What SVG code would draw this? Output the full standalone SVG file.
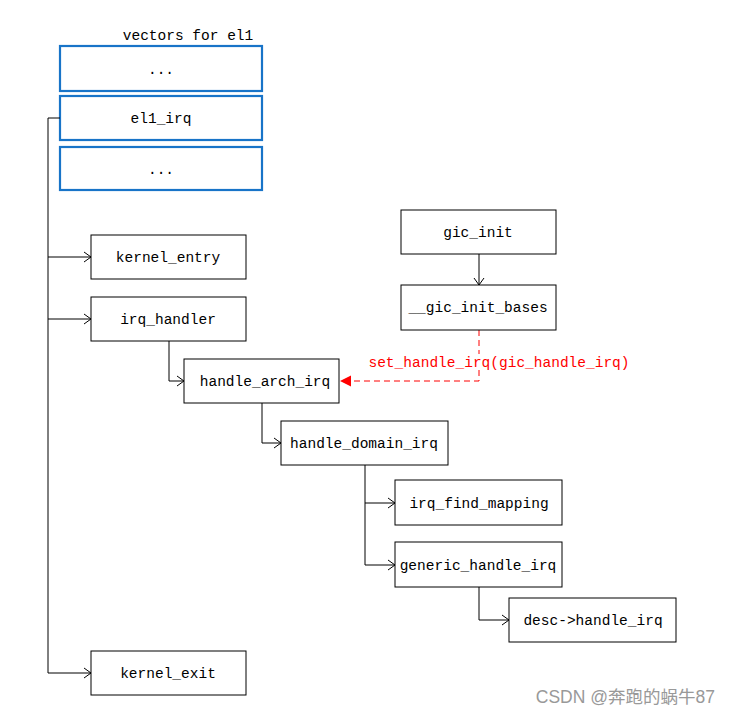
<svg xmlns="http://www.w3.org/2000/svg" width="730" height="716" viewBox="0 0 730 716">
<style>
.box{fill:#fff;stroke:#000;stroke-width:1}
.vbox{fill:#fff;stroke:#1874c8;stroke-width:2.2}
.t{font-family:"Liberation Mono",monospace;font-size:14.5px;fill:#000;text-anchor:middle;dominant-baseline:central}
.c{fill:none;stroke:#000;stroke-width:1}
.red{fill:none;stroke:#f00;stroke-width:1;stroke-dasharray:6,4}
</style>
<defs>
<marker id="open" markerWidth="10" markerHeight="12" refX="8" refY="6" orient="auto" markerUnits="userSpaceOnUse">
<path d="M1,1 L8,6 L1,11" fill="none" stroke="#000" stroke-width="1"/>
</marker>
<marker id="tri" markerWidth="12" markerHeight="12" refX="11" refY="6" orient="auto" markerUnits="userSpaceOnUse">
<path d="M0,0.5 L11,6 L0,11.5 Z" fill="#f00"/>
</marker>
</defs>
<text class="t" x="188" y="36">vectors for el1</text>
<g id="vec1"><rect class="vbox" x="60" y="46" width="202" height="45"/><text class="t" x="161" y="70">...</text></g>
<g id="el1_irq"><rect class="vbox" x="60" y="96" width="202" height="44"/><text class="t" x="161" y="119">el1_irq</text></g>
<g id="vec3"><rect class="vbox" x="60" y="147" width="202" height="43"/><text class="t" x="161" y="170">...</text></g>
<g id="connectors">
<path class="c" d="M60,118 H48 V673"/>
<path class="c" d="M48,257 H91" marker-end="url(#open)"/>
<path class="c" d="M48,319 H91" marker-end="url(#open)"/>
<path class="c" d="M48,673 H91" marker-end="url(#open)"/>
<path class="c" d="M169,341 V381 H184" marker-end="url(#open)"/>
<path class="c" d="M262,403 V443 H281" marker-end="url(#open)"/>
<path class="c" d="M365,465 V565 H395" marker-end="url(#open)"/>
<path class="c" d="M365,503 H395" marker-end="url(#open)"/>
<path class="c" d="M479,587 V620 H509" marker-end="url(#open)"/>
<path class="c" d="M479,254 V285" marker-end="url(#open)"/>
<path class="red" d="M479,330 V381 H340" marker-end="url(#tri)"/>
<rect x="368" y="354" width="262" height="16" fill="#fff"/>
<text class="t" x="499" y="363" style="fill:#f00">set_handle_irq(gic_handle_irq)</text>
</g>
<g id="kernel_entry"><rect class="box" x="91" y="235" width="155" height="44"/><text class="t" x="168" y="258">kernel_entry</text></g>
<g id="irq_handler"><rect class="box" x="91" y="297" width="155" height="44"/><text class="t" x="168" y="320">irq_handler</text></g>
<g id="handle_arch_irq"><rect class="box" x="184" y="359" width="155" height="44"/><text class="t" x="265" y="382">handle_arch_irq</text></g>
<g id="gic_init"><rect class="box" x="401" y="210" width="155" height="44"/><text class="t" x="478" y="233">gic_init</text></g>
<g id="gic_init_bases"><rect class="box" x="401" y="285" width="155" height="45"/><text class="t" x="478" y="308">__gic_init_bases</text></g>
<g id="handle_domain_irq"><rect class="box" x="281" y="421" width="167" height="44"/><text class="t" x="364" y="444">handle_domain_irq</text></g>
<g id="irq_find_mapping"><rect class="box" x="395" y="480" width="167" height="45"/><text class="t" x="479" y="504">irq_find_mapping</text></g>
<g id="generic_handle_irq"><rect class="box" x="395" y="542" width="167" height="45"/><text class="t" x="478" y="566">generic_handle_irq</text></g>
<g id="desc_handle_irq"><rect class="box" x="509" y="598" width="167" height="44"/><text class="t" x="593" y="621">desc-&gt;handle_irq</text></g>
<g id="kernel_exit"><rect class="box" x="91" y="651" width="155" height="44"/><text class="t" x="168" y="674">kernel_exit</text></g>
<text x="715" y="703" style="font-family:'Liberation Sans','Noto Sans CJK SC',sans-serif;font-size:17.5px;fill:#999;text-anchor:end">CSDN @奔跑的蜗牛87</text>
</svg>
